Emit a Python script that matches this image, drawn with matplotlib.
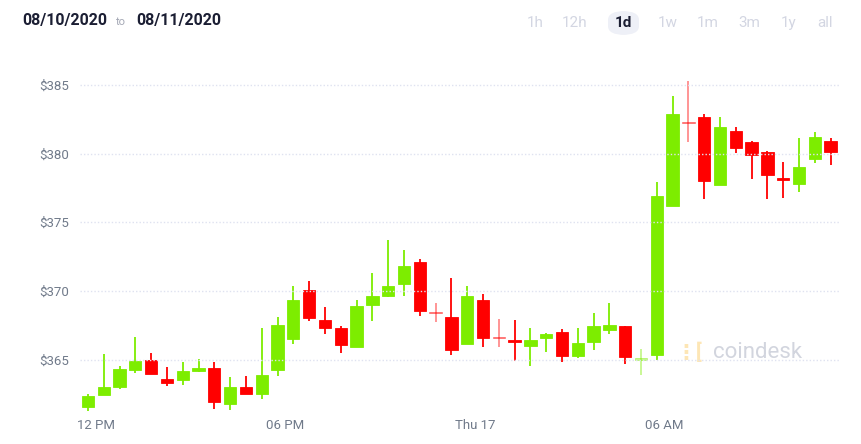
import numpy as np
import matplotlib
matplotlib.use("Agg")
import matplotlib.pyplot as plt
from matplotlib.patches import FancyBboxPatch

# OHLC de velas de 30 minutos
opens = [361.54, 362.45, 363.01, 364.27, 364.96, 363.57, 363.50, 364.20, 364.40, 361.78,
         362.99, 362.50, 364.25, 366.51, 370.05, 367.87, 367.31, 365.92, 368.96, 369.64,
         370.53, 372.13, 368.42, 368.13, 366.16, 369.32, 366.60, 366.43, 366.02, 366.60,
         367.02, 365.25, 366.31, 367.18, 367.45, 365.05, 365.32, 376.21, 382.28, 382.66,
         377.69, 381.62, 380.87, 380.12, 378.25, 377.77, 379.63, 380.94]
closes = [362.36, 362.99, 364.32, 364.88, 363.94, 363.33, 364.18, 364.40, 361.90, 363.01,
          362.48, 363.86, 367.53, 369.32, 368.03, 367.29, 366.05, 368.90, 369.61, 370.36,
          371.82, 368.54, 368.42, 365.68, 369.66, 366.58, 366.60, 366.27, 366.43, 366.85,
          365.27, 366.22, 367.45, 367.50, 365.20, 365.05, 376.89, 382.90, 382.28, 378.00,
          381.96, 380.39, 379.88, 378.46, 378.06, 379.00, 381.18, 380.12]
highs = [362.50, 365.41, 364.56, 366.65, 365.47, 364.47, 364.83, 365.03, 364.83, 363.74,
         363.81, 367.31, 368.11, 370.36, 370.73, 368.84, 367.45, 369.35, 371.31, 373.70,
         372.98, 372.31, 369.10, 370.92, 370.36, 369.78, 367.96, 367.91, 367.33, 366.92,
         367.23, 367.29, 368.42, 369.13, 367.45, 365.75, 377.93, 384.19, 385.28, 382.88,
         382.66, 381.96, 380.94, 380.17, 379.37, 381.14, 381.55, 381.11]
lows = [361.29, 362.45, 362.89, 364.00, 363.94, 363.11, 363.14, 364.13, 361.43, 361.34,
        362.48, 362.16, 363.84, 366.17, 367.79, 366.89, 365.51, 365.92, 367.84, 369.60,
        369.66, 368.18, 367.77, 365.34, 366.16, 365.90, 365.95, 364.91, 364.56, 365.58,
        364.85, 365.10, 365.70, 366.87, 364.66, 363.89, 364.98, 376.21, 380.87, 376.70,
        377.69, 380.07, 378.13, 376.67, 376.79, 377.20, 379.34, 379.19]
# velas doji que aparecem em vermelho
doji_red = [22, 26, 38]

tick_pos = [0.5, 12.5, 24.5, 36.5]
tick_labels = ["12 PM", "06 PM", "Thu 17", "06 AM"]
y_ticks = [365, 370, 375, 380, 385]

GREEN = "#7ded00"
RED = "#ff0000"

plt.rcParams['font.family'] = ['Roboto', 'DejaVu Sans']

fig = plt.figure(figsize=(8.62, 4.44), dpi=100)
ax = fig.add_axes([80 / 862, 29 / 444, 759 / 862, 345 / 444])

x = np.arange(len(opens))
o = np.array(opens)
c = np.array(closes)
h = np.array(highs)
l = np.array(lows)

colors = []
faded = []
for i in range(len(o)):
    if c[i] > o[i]:
        colors.append(GREEN)
    elif c[i] < o[i]:
        colors.append(RED)
    else:
        colors.append(RED if i in doji_red else GREEN)
    faded.append(c[i] == o[i])

for i in range(len(o)):
    a = 0.45 if faded[i] else 1.0
    ax.vlines(x[i], l[i], h[i], color=colors[i], linewidth=1.3, alpha=a, zorder=2)
    bottom = min(o[i], c[i])
    height = max(abs(c[i] - o[i]), 0.1)
    if faded[i]:
        bottom -= 0.05
    ax.bar(x[i], height, bottom=bottom, width=0.78, color=colors[i],
           edgecolor=colors[i], linewidth=0.6, alpha=a, zorder=3)

ax.set_xlim(-0.5, 47.53)
ax.set_ylim(360.98, 386.08)

for yv in y_ticks:
    ax.axhline(yv, color="#dfe2f0", linewidth=1.0, linestyle=(0, (1, 1.5)), zorder=5)

ax.set_yticks(y_ticks)
ax.set_yticklabels(["$%d" % v for v in y_ticks])
ax.set_xticks(tick_pos)
ax.set_xticklabels(tick_labels)
ax.tick_params(axis="both", length=0, labelsize=9.5, colors="#707a8a")
ax.tick_params(axis="y", pad=8)
ax.tick_params(axis="x", pad=3)
for s in ax.spines.values():
    s.set_visible(False)

# marca d'agua
ax.text(0.834, 0.18, "coindesk", transform=ax.transAxes, fontsize=16,
        color="#d2d5de", ha="left", va="center", zorder=1)
ax.text(0.785, 0.18, "\u22ee[", transform=ax.transAxes, fontsize=15,
        fontweight="bold", color="#fde6b5", ha="left", va="center", zorder=1)

# cabeçalho
fig.text(22 / 862, 1 - 21 / 444, "08/10/2020", fontsize=11.5, fontweight="bold",
         color="#1b1e33", ha="left", va="center")
fig.text(116 / 862, 1 - 22 / 444, "to", fontsize=8, color="#a4a8b5",
         ha="left", va="center")
fig.text(136 / 862, 1 - 21 / 444, "08/11/2020", fontsize=11.5, fontweight="bold",
         color="#1b1e33", ha="left", va="center")

pill = FancyBboxPatch((608 / 862, 1 - 35 / 444), 31 / 862, 24 / 444,
                      boxstyle="round,pad=0,rounding_size=0.02",
                      transform=fig.transFigure, facecolor="#eef0f7",
                      edgecolor="none")
fig.patches.append(pill)
ranges = ["1h", "12h", "1d", "1w", "1m", "3m", "1y", "all"]
range_x = [535, 575, 623, 668, 708, 749, 789, 825]
for lab, rx in zip(ranges, range_x):
    sel = lab == "1d"
    fig.text(rx / 862, 1 - 23 / 444, lab, fontsize=11, ha="center", va="center",
             fontweight="bold" if sel else "normal",
             color="#1b1e33" if sel else "#d3d6e2")

fig.savefig("out.png", dpi=100)
